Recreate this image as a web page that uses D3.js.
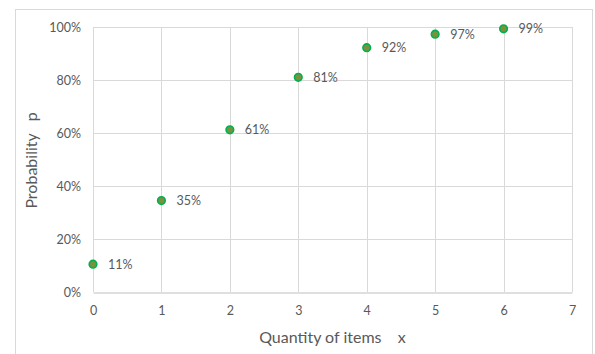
<!DOCTYPE html>
<html>
<head>
<meta charset="utf-8">
<script src="https://cdn.jsdelivr.net/npm/d3@7"></script>
<style>
  html, body { margin: 0; padding: 0; background: #fff; }
  svg { display: block; }
  text { font-family: Lato, "Open Sans", sans-serif; fill: #595959; }
</style>
</head>
<body>
<svg id="chart" width="595" height="354"></svg>
<script>
const xValues = [0, 1, 2, 3, 4, 5, 6];
const pValues = [0.105, 0.345, 0.612, 0.81, 0.922, 0.973, 0.993];
const pLabels = ["11%", "35%", "61%", "81%", "92%", "97%", "99%"];
const xTicks = [0, 1, 2, 3, 4, 5, 6, 7];
const yTicks = [0, 0.2, 0.4, 0.6, 0.8, 1.0];
const xTitle = "Quantity of items\u00a0\u00a0\u00a0\u00a0x";
const yTitle = "Probability\u00a0\u00a0\u00a0p";

const svg = d3.select("#chart");
const pLeft = 93, pRight = 572, pTop = 27, pBottom = 292;
const x = d3.scaleLinear().domain([0, 7]).range([pLeft, pRight]);
const y = d3.scaleLinear().domain([0, 1]).range([pBottom, pTop]);

svg.append("rect").attr("x", 15.5).attr("y", 9.5).attr("width", 577).attr("height", 360)
  .attr("fill", "#fff").attr("stroke", "#d9d9d9");

// gridlines
svg.append("g").selectAll("line").data(yTicks.filter(d => d > 0)).join("line")
  .attr("x1", pLeft).attr("x2", pRight)
  .attr("y1", d => Math.round(y(d)) + 0.5).attr("y2", d => Math.round(y(d)) + 0.5)
  .attr("stroke", "#d9d9d9");
svg.append("g").selectAll("line").data(xTicks).join("line")
  .attr("y1", pTop).attr("y2", pBottom)
  .attr("x1", d => Math.round(x(d)) + 0.5).attr("x2", d => Math.round(x(d)) + 0.5)
  .attr("stroke", "#d9d9d9");

// x axis
const xAxis = svg.append("g").attr("transform", `translate(0,${pBottom + 0.5})`)
  .call(d3.axisBottom(x).tickValues(xTicks).tickSize(0).tickPadding(14).tickFormat(d3.format("d")));
xAxis.select(".domain").attr("stroke", "#bfbfbf");
xAxis.selectAll("text").style("font-size", "12.5px").attr("fill", "#595959")
  .style("font-family", "Lato, 'Open Sans', sans-serif");

// y axis
const yAxis = svg.append("g").attr("transform", `translate(${pLeft},0)`)
  .call(d3.axisLeft(y).tickValues(yTicks).tickSize(0).tickPadding(12).tickFormat(d3.format(".0%")));
yAxis.select(".domain").remove();
yAxis.selectAll("text").style("font-size", "12.5px").attr("fill", "#595959")
  .style("font-family", "Lato, 'Open Sans', sans-serif");

// points
const data = xValues.map((v, i) => ({x: v, p: pValues[i], label: pLabels[i]}));
svg.append("g").selectAll("circle").data(data).join("circle")
  .attr("cx", d => x(d.x)).attr("cy", d => y(d.p)).attr("r", 3.8)
  .attr("fill", "#77933c").attr("stroke", "#00b050").attr("stroke-width", 1.6);

svg.append("g").selectAll("text").data(data).join("text")
  .attr("x", d => x(d.x) + 15).attr("y", d => y(d.p))
  .attr("dy", "0.35em")
  .style("font-size", "12.5px")
  .text(d => d.label);

// titles
svg.append("text").attr("x", (pLeft + pRight) / 2).attr("y", 343)
  .attr("text-anchor", "middle").style("font-size", "16px").text(xTitle);
svg.append("text").attr("transform", `translate(37,${(pTop + pBottom) / 2 + 1}) rotate(-90)`)
  .attr("text-anchor", "middle").style("font-size", "16px").text(yTitle);
</script>
</body>
</html>
